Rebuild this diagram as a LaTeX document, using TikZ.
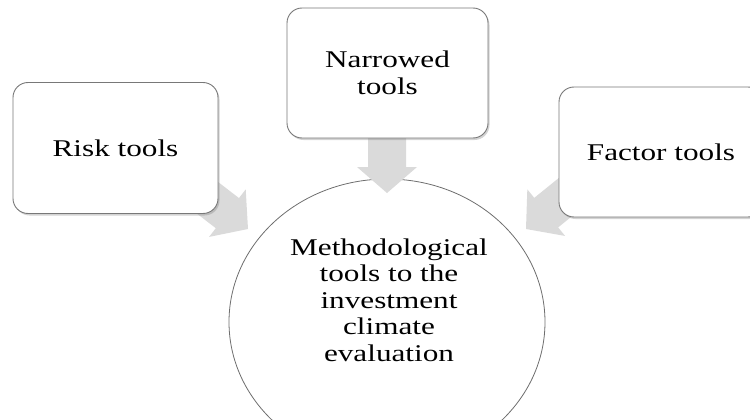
\documentclass[tikz,border=0pt]{standalone}
\usepackage{fontspec}
\setmainfont[FakeStretch=1.3]{Liberation Serif}
\usetikzlibrary{shadows,calc}
\begin{document}
\begin{tikzpicture}[x=1pt,y=-1pt,
  toolbox/.style={draw={rgb,255:red,120;green,120;blue,120}, line width=0.9pt, fill=white,
    rounded corners=15pt,
    drop shadow={opacity=0.35, shadow xshift=1.5pt, shadow yshift=-2pt}},
  bigtext/.style={font=\fontsize{24}{26.5}\selectfont, align=center, text=black},
  blockarrowfill/.style={fill={rgb,255:red,218;green,218;blue,218}, draw=none}
]
\useasboundingbox (0,0) rectangle (750,420);
\clip (0,0) rectangle (750,420);

% central ellipse
\draw[draw={rgb,255:red,110;green,110;blue,110}, line width=0.8pt, fill=white]
  (387,322) ellipse [x radius=158, y radius=143];
\node[bigtext] (center) at (389,300) {Methodological\\tools to the\\investment\\climate\\evaluation};

% block arrows (tip at origin, pointing along +x before rotation)
\newcommand{\blockarrowat}[3]{%
  \fill[blockarrowfill, shift={(#1)}, rotate=#2]
    (0,0) -- (-26,30) -- (-26,19) -- (-#3,19) -- (-#3,-19) -- (-26,-19) -- (-26,-30) -- cycle;}
\coordinate (tipL) at (248,229);
\coordinate (tipD) at (387,193);
\coordinate (tipR) at (526,229);
\blockarrowat{tipL}{-37.6}{75}
\blockarrowat{tipD}{-90}{62}
\blockarrowat{tipR}{-141}{75}

% boxes
\node[toolbox, minimum width=205pt, minimum height=131pt, bigtext] (risk) at (115.5,148) {Risk tools};
\node[toolbox, minimum width=201pt, minimum height=130pt, bigtext] (narrow) at (387.5,73) {Narrowed\\tools};
\node[toolbox, minimum width=204pt, minimum height=130pt, bigtext] (factor) at (661,152) {Factor tools};
\end{tikzpicture}
\end{document}
